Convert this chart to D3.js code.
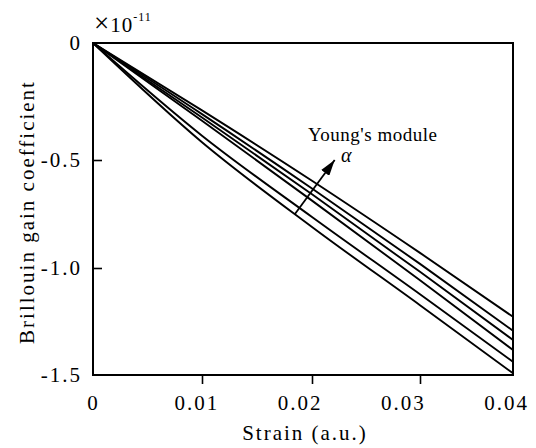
<!DOCTYPE html>
<html>
<head>
<meta charset="utf-8">
<script src="https://cdn.jsdelivr.net/npm/d3@7/dist/d3.min.js"></script>
<style>
  body { margin: 0; background: #fff; }
  svg { display: block; font-family: "Liberation Serif", "DejaVu Serif", serif; }
  .tick-label text { font-family: "Liberation Serif", serif; font-size: 21px; letter-spacing: 2px; fill: #000; }
</style>
</head>
<body>
<div id="chart"></div>
<script>
// strain values (a.u.) at which the curves were read
const strain = [0, 0.01, 0.02, 0.03, 0.04];

// Brillouin gain coefficient (x1e-11), one array per Young's module value
const gain1 = [0, -0.288, -0.596, -0.930, -1.228];
const gain2 = [0, -0.304, -0.632, -0.981, -1.293];
const gain3 = [0, -0.318, -0.659, -1.018, -1.336];
const gain4 = [0, -0.332, -0.688, -1.057, -1.383];
const gain5 = [0, -0.396, -0.764, -1.123, -1.438];
const gain6 = [0, -0.424, -0.810, -1.174, -1.492];
const series = [gain1, gain2, gain3, gain4, gain5, gain6];

const xTicks = [0, 0.01, 0.02, 0.03, 0.04];
const xTickLabels = ['0', '0.01', '0.02', '0.03', '0.04'];
const yTicks = [0, -0.5, -1.0, -1.5];
const yTickLabels = ['0', '-0.5', '-1.0', '-1.5'];

// arrow: from [strain, gain] to [strain, gain]
const arrowFrom = [0.01845, -0.75];
const arrowTo = [0.0221, -0.5];

const width = 536;
const height = 448;
const plot = { left: 93, right: 513, top: 43, bottom: 375 };

const svg = d3.select('#chart').append('svg')
    .attr('width', width)
    .attr('height', height);

// the original frame is slightly uneven, so the scales are piecewise
const x = d3.scaleLinear()
    .domain(xTicks)
    .range([plot.left, 202, 312, 420, plot.right]);
const xLabel = d3.scaleLinear()
    .domain([0, 0.04])
    .range([plot.left, 506]);
const y = d3.scaleLinear()
    .domain(yTicks)
    .range([plot.top, 160, 268, plot.bottom]);

function plain(g) {
    g.attr('font-family', null).attr('font-size', null);
    g.select('.domain').remove();
    g.selectAll('line').attr('stroke', '#000').attr('stroke-width', 1.6);
}

// tick marks
svg.append('g')
    .attr('transform', 'translate(0,' + plot.bottom + ')')
    .call(d3.axisBottom(x).tickValues([0.01, 0.02, 0.03]).tickSize(9).tickFormat(''))
    .call(plain);
svg.append('g')
    .attr('transform', 'translate(' + plot.left + ',0)')
    .call(d3.axisRight(y).tickValues([-0.5, -1.0]).tickSize(9).tickFormat(''))
    .call(plain);

// tick labels
svg.append('g')
    .attr('class', 'tick-label')
    .attr('transform', 'translate(0,' + plot.bottom + ')')
    .call(d3.axisBottom(xLabel).tickValues(xTicks).tickSize(0).tickPadding(20)
        .tickFormat((d, i) => xTickLabels[i]))
    .call(plain);
svg.append('g')
    .attr('class', 'tick-label')
    .attr('transform', 'translate(' + plot.left + ',0)')
    .call(d3.axisLeft(y).tickValues(yTicks).tickSize(0).tickPadding(11)
        .tickFormat((d, i) => yTickLabels[i]))
    .call(plain);

// curves
const line = d3.line()
    .x((d, i) => x(strain[i]))
    .y(d => y(d))
    .curve(d3.curveMonotoneX);

svg.append('g')
    .selectAll('path')
    .data(series)
    .join('path')
    .attr('d', line)
    .attr('fill', 'none')
    .attr('stroke', '#000')
    .attr('stroke-width', 1.9);

// frame
svg.append('rect')
    .attr('x', plot.left)
    .attr('y', plot.top)
    .attr('width', plot.right - plot.left)
    .attr('height', plot.bottom - plot.top)
    .attr('fill', 'none')
    .attr('stroke', '#000')
    .attr('stroke-width', 2);

// arrow
svg.append('defs').append('marker')
    .attr('id', 'head')
    .attr('viewBox', '0 0 16 10')
    .attr('refX', 16)
    .attr('refY', 5)
    .attr('markerWidth', 16)
    .attr('markerHeight', 10)
    .attr('markerUnits', 'userSpaceOnUse')
    .attr('orient', 'auto')
    .append('path')
    .attr('d', 'M0,0 L16,5 L0,10 Z')
    .attr('fill', '#000');

svg.append('line')
    .attr('x1', x(arrowFrom[0]))
    .attr('y1', y(arrowFrom[1]))
    .attr('x2', x(arrowTo[0]))
    .attr('y2', y(arrowTo[1]))
    .attr('stroke', '#000')
    .attr('stroke-width', 1.8)
    .attr('marker-end', 'url(#head)');

svg.append('text')
    .attr('x', 308)
    .attr('y', 141)
    .attr('font-size', 19)
    .attr('letter-spacing', 0.5)
    .text("Young's module");
svg.append('text')
    .attr('x', 341)
    .attr('y', 162)
    .attr('font-size', 20)
    .attr('font-style', 'italic')
    .text('\u03b1');

// exponent
const expo = svg.append('text')
    .attr('x', 94)
    .attr('y', 32)
    .attr('font-size', 21)
    .attr('letter-spacing', 1);
expo.append('tspan').attr('font-size', 27).text('\u00d7');
expo.append('tspan').text('10');
expo.append('tspan')
    .attr('font-size', 12)
    .attr('dy', -11)
    .text('-11');

// axis titles
svg.append('text')
    .attr('x', 305)
    .attr('y', 440)
    .attr('text-anchor', 'middle')
    .attr('font-size', 21)
    .attr('letter-spacing', 2)
    .text('Strain (a.u.)');
svg.append('text')
    .attr('transform', 'translate(34,212) rotate(-90)')
    .attr('text-anchor', 'middle')
    .attr('font-size', 21)
    .attr('letter-spacing', 2)
    .text('Brillouin gain coefficient');
</script>
</body>
</html>
